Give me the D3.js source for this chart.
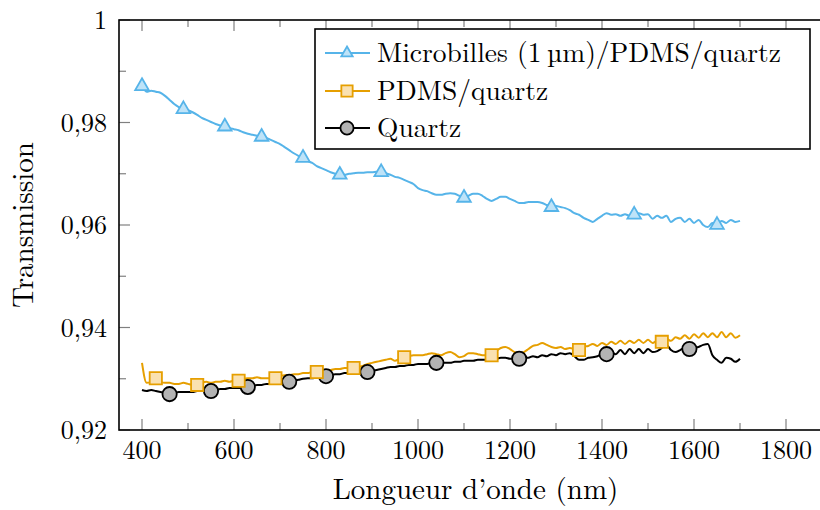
<!DOCTYPE html>
<html><head><meta charset="utf-8">
<script src="https://cdn.jsdelivr.net/npm/d3@7"></script>
<style>body{margin:0;background:#fff}svg{display:block}</style>
</head><body><svg id="c" width="820" height="510"></svg>
<script>
const wavelengths = [400,410,420,430,440,450,460,470,480,490,500,510,520,530,540,550,560,570,580,590,600,610,620,630,640,650,660,670,680,690,700,710,720,730,740,750,760,770,780,790,800,810,820,830,840,850,860,870,880,890,900,910,920,930,940,950,960,970,980,990,1000,1010,1020,1030,1040,1050,1060,1070,1080,1090,1100,1110,1120,1130,1140,1150,1160,1170,1180,1190,1200,1210,1220,1230,1240,1250,1260,1270,1280,1290,1300,1310,1320,1330,1340,1350,1360,1370,1380,1390,1400,1410,1420,1430,1440,1450,1460,1470,1480,1490,1500,1510,1520,1530,1540,1550,1560,1570,1580,1590,1600,1610,1620,1630,1640,1650,1660,1670,1680,1690,1700];
const microbilles = [0.9871,0.9860,0.9862,0.9860,0.9858,0.9852,0.9844,0.9836,0.9830,0.9826,0.9824,0.9820,0.9815,0.9809,0.9805,0.9801,0.9797,0.9794,0.9792,0.9789,0.9787,0.9785,0.9781,0.9778,0.9776,0.9774,0.9772,0.9770,0.9766,0.9762,0.9758,0.9752,0.9746,0.9740,0.9735,0.9731,0.9725,0.9721,0.9715,0.9711,0.9707,0.9703,0.9700,0.9698,0.9698,0.9700,0.9701,0.9702,0.9702,0.9703,0.9703,0.9704,0.9703,0.9701,0.9698,0.9694,0.9692,0.9688,0.9684,0.9680,0.9672,0.9668,0.9666,0.9662,0.9659,0.9659,0.9661,0.9662,0.9661,0.9657,0.9653,0.9657,0.9661,0.9661,0.9657,0.9651,0.9647,0.9651,0.9655,0.9655,0.9651,0.9647,0.9643,0.9643,0.9645,0.9645,0.9645,0.9643,0.9639,0.9635,0.9637,0.9635,0.9633,0.9629,0.9623,0.9620,0.9614,0.9610,0.9606,0.9612,0.9618,0.9623,0.9620,0.9621,0.9618,0.9621,0.9618,0.9620,0.9623,0.9620,0.9621,0.9612,0.9618,0.9614,0.9618,0.9606,0.9612,0.9614,0.9606,0.9612,0.9604,0.9610,0.9600,0.9596,0.9604,0.9600,0.9608,0.9604,0.9610,0.9606,0.9608];
const pdms = [0.9331,0.9292,0.9294,0.9301,0.9294,0.9292,0.9292,0.9290,0.9290,0.9292,0.9290,0.9288,0.9288,0.9292,0.9294,0.9292,0.9294,0.9294,0.9296,0.9294,0.9296,0.9296,0.9300,0.9301,0.9301,0.9303,0.9301,0.9301,0.9301,0.9301,0.9305,0.9307,0.9307,0.9309,0.9309,0.9311,0.9311,0.9313,0.9313,0.9315,0.9317,0.9317,0.9319,0.9319,0.9321,0.9321,0.9321,0.9323,0.9325,0.9329,0.9331,0.9333,0.9335,0.9337,0.9339,0.9335,0.9339,0.9342,0.9344,0.9346,0.9346,0.9346,0.9348,0.9350,0.9348,0.9346,0.9350,0.9352,0.9348,0.9342,0.9344,0.9350,0.9350,0.9348,0.9346,0.9346,0.9346,0.9354,0.9360,0.9362,0.9358,0.9352,0.9350,0.9352,0.9358,0.9364,0.9366,0.9370,0.9366,0.9362,0.9360,0.9362,0.9358,0.9360,0.9358,0.9356,0.9362,0.9364,0.9368,0.9364,0.9370,0.9366,0.9372,0.9368,0.9374,0.9368,0.9374,0.9370,0.9376,0.9370,0.9376,0.9370,0.9374,0.9372,0.9378,0.9374,0.9381,0.9378,0.9385,0.9378,0.9387,0.9380,0.9389,0.9381,0.9389,0.9381,0.9391,0.9381,0.9389,0.9380,0.9385];
const quartz = [0.9278,0.9276,0.9278,0.9276,0.9274,0.9272,0.9270,0.9272,0.9274,0.9274,0.9274,0.9274,0.9276,0.9276,0.9276,0.9276,0.9278,0.9280,0.9280,0.9282,0.9282,0.9282,0.9284,0.9284,0.9286,0.9288,0.9288,0.9290,0.9290,0.9292,0.9292,0.9294,0.9294,0.9296,0.9298,0.9300,0.9301,0.9301,0.9303,0.9303,0.9305,0.9307,0.9309,0.9309,0.9311,0.9311,0.9311,0.9313,0.9313,0.9313,0.9315,0.9317,0.9319,0.9321,0.9323,0.9323,0.9325,0.9325,0.9327,0.9327,0.9329,0.9329,0.9329,0.9331,0.9331,0.9331,0.9331,0.9331,0.9333,0.9333,0.9335,0.9335,0.9335,0.9337,0.9337,0.9337,0.9339,0.9339,0.9341,0.9341,0.9339,0.9339,0.9339,0.9342,0.9341,0.9344,0.9342,0.9346,0.9344,0.9348,0.9346,0.9350,0.9348,0.9350,0.9344,0.9337,0.9337,0.9341,0.9342,0.9344,0.9348,0.9348,0.9352,0.9348,0.9356,0.9348,0.9358,0.9350,0.9358,0.9350,0.9358,0.9352,0.9354,0.9360,0.9366,0.9356,0.9352,0.9356,0.9360,0.9358,0.9360,0.9362,0.9366,0.9368,0.9346,0.9337,0.9331,0.9341,0.9339,0.9333,0.9339];
const markersMicrobilles = [400,490,580,660,750,830,920,1100,1290,1470,1650];
const markersPdms = [430,520,610,690,780,860,970,1160,1350,1530];
const markersQuartz = [460,550,630,720,800,890,1040,1220,1410,1590];
const seriesNames = ["Microbilles (1\u2009\u00b5m)/PDMS/quartz", "PDMS/quartz", "Quartz"];
const xTickValues = [400,600,800,1000,1200,1400,1600,1800];
const yTickValues = [0.92,0.94,0.96,0.98,1];
const yTickLabels = ["0,92","0,94","0,96","0,98","1"];
const xLabel = "Longueur d\u2019onde (nm)";
const yLabel = "Transmission";

const FONT = '"Latin Modern Roman","CMU Serif","DejaVu Serif",serif';
const svg = d3.select("#c");
const L = 119, T = 20, B = 430, R = 832;
const x = d3.scaleLinear().domain([350,1900]).range([L,R]);
const y = d3.scaleLinear().domain([0.92,1]).range([B,T]);

const series = [
  {name:seriesNames[0], vals:microbilles, marks:markersMicrobilles, stroke:"#56B4E9", fill:"#BEE3F8", sym:d3.symbolTriangle, size:80, mstroke:"#56B4E9"},
  {name:seriesNames[1], vals:pdms, marks:markersPdms, stroke:"#E69F00", fill:"#FAE1B0", sym:d3.symbolSquare, size:150, mstroke:"#E69F00"},
  {name:seriesNames[2], vals:quartz, marks:markersQuartz, stroke:"#000000", fill:"#B3B3B3", sym:d3.symbolCircle, size:160, mstroke:"#000000"}
];

svg.append("defs").append("clipPath").attr("id","cp").append("rect")
  .attr("x",L).attr("y",T).attr("width",R-L).attr("height",B-T);

// ticks (inward)
const tg = svg.append("g").attr("stroke","#808080").attr("stroke-width",1.2);
const xAll = [400,500,600,700,800,900,1000,1100,1200,1300,1400,1500,1600,1700,1800];
xAll.forEach(v=>{
  const len = xTickValues.includes(v)?11:7;
  tg.append("line").attr("x1",x(v)).attr("x2",x(v)).attr("y1",B).attr("y2",B-len);
  tg.append("line").attr("x1",x(v)).attr("x2",x(v)).attr("y1",T).attr("y2",T+len);
});
const yMinor = [0.93,0.95,0.97,0.99];
yTickValues.concat(yMinor).forEach(v=>{
  const len = yTickValues.includes(v)?11:7;
  tg.append("line").attr("x1",L).attr("x2",L+len).attr("y1",y(v)).attr("y2",y(v));
});

// lines
const line = d3.line().x((d,i)=>x(wavelengths[i])).y(d=>y(d)).curve(d3.curveMonotoneX);
const plot = svg.append("g").attr("clip-path","url(#cp)");
[series[2],series[1],series[0]].forEach(s=>{
  plot.append("path").attr("d",line(s.vals)).attr("fill","none")
    .attr("stroke",s.stroke).attr("stroke-width",2).attr("stroke-linejoin","round");
});
[series[2],series[1],series[0]].forEach(s=>{
  const sym = d3.symbol().type(s.sym).size(s.size);
  s.marks.forEach(w=>{
    const i = wavelengths.indexOf(w);
    plot.append("path").attr("d",sym())
      .attr("transform",`translate(${x(w)},${y(s.vals[i])})`)
      .attr("fill",s.fill).attr("stroke",s.mstroke).attr("stroke-width",1.8);
  });
});

// frame
svg.append("rect").attr("x",L).attr("y",T).attr("width",R-L).attr("height",B-T)
  .attr("fill","none").attr("stroke","#000").attr("stroke-width",1.6);

function txt(px,py,str,size,anchor,rot){
  return svg.append("text")
    .attr("transform",`translate(${px},${py})${rot?` rotate(${rot})`:""}`)
    .attr("font-family",FONT).attr("fill","#000")
    .attr("text-anchor",anchor).attr("font-size",size).text(str);
}
// tick labels
xTickValues.forEach(v=>txt(x(v),459,v,26,"middle"));
yTickValues.forEach((v,i)=>txt(107,y(v)+9,yTickLabels[i],26,"end"));

// axis labels
txt((L+R)/2,499,xLabel,29,"middle");
txt(33,(T+B)/2,yLabel,29,"middle",-90);

// legend
const lg = svg.append("g");
lg.append("rect").attr("x",315).attr("y",29).attr("width",495).attr("height",120)
  .attr("fill","#fff").attr("stroke","#000").attr("stroke-width",1.6);
const rows = [53,91,128];
series.forEach((s,i)=>{
  const yy = rows[i];
  lg.append("line").attr("x1",325).attr("x2",370).attr("y1",yy).attr("y2",yy)
    .attr("stroke",s.stroke).attr("stroke-width",2);
  lg.append("path").attr("d",d3.symbol().type(s.sym).size(s.size*(i===0?0.7:0.85))())
    .attr("transform",`translate(347,${yy})`)
    .attr("fill",s.fill).attr("stroke",s.mstroke).attr("stroke-width",1.8);
  lg.append("text").attr("x",377).attr("y",yy+9).attr("font-family",FONT).attr("fill","#000")
    .attr("font-size",27.5).text(s.name);
});
</script></body></html>
